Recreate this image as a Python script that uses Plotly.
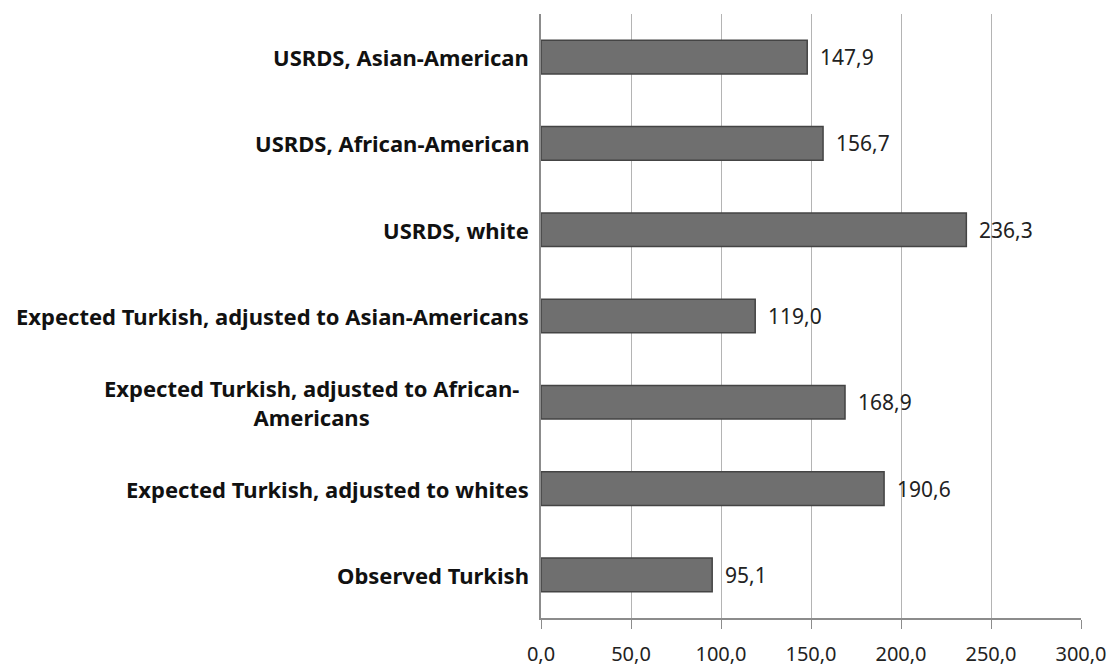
import plotly.graph_objects as go

categories = [
    "USRDS, Asian-American",
    "USRDS, African-American",
    "USRDS, white",
    "Expected Turkish, adjusted to Asian-Americans",
    "Expected Turkish, adjusted to African-<br>Americans",
    "Expected Turkish, adjusted to whites",
    "Observed Turkish",
]
values = [147.9, 156.7, 236.3, 119.0, 168.9, 190.6, 95.1]
tick_values = [0, 50, 100, 150, 200, 250, 300]

fig = go.Figure()
fig.add_trace(go.Bar(
    x=values, y=list(range(len(categories))), orientation="h",
    marker=dict(color="#6f6f6f", line=dict(color="#444444", width=1.5)),
    width=0.39, hoverinfo="skip",
))

annotations = []
for i, (c, v) in enumerate(zip(categories, values)):
    annotations.append(dict(
        x=0, y=i, xref="paper", yref="y", text=c, showarrow=False,
        xanchor="right", yanchor="middle", align="center",
        xshift=-10 if "<br>" not in c else -20,
        font=dict(family="Noto Sans", size=22, color="#111111", weight="bold"),
    ))
    annotations.append(dict(
        x=v, y=i, xref="x", yref="y", text=f"{v:.1f}".replace(".", ","),
        showarrow=False, xanchor="left", yanchor="middle", xshift=11,
        font=dict(family="Noto Sans", size=21, color="#222222"),
    ))

fig.update_layout(
    width=1119, height=671,
    margin=dict(l=533, r=46, t=6, b=61),
    paper_bgcolor="white", plot_bgcolor="white",
    separators=",.",
    showlegend=False,
    annotations=annotations,
    xaxis=dict(
        range=[0, 300], tickvals=tick_values, tickformat=".1f",
        showgrid=True, gridcolor="#b4b4b4", gridwidth=1,
        showline=True, linecolor="#8c8c8c", linewidth=1.5,
        ticks="outside", ticklen=9, tickcolor="#8c8c8c",
        ticklabelstandoff=8,
        tickfont=dict(family="Noto Sans", size=20, color="#222222"),
        zeroline=False, fixedrange=True,
    ),
    yaxis=dict(
        range=[6.5, -0.5], showticklabels=False, showgrid=False,
        showline=True, linecolor="#8c8c8c", linewidth=1.5,
        zeroline=False, fixedrange=True,
    ),
)

fig.write_html("out.html")
